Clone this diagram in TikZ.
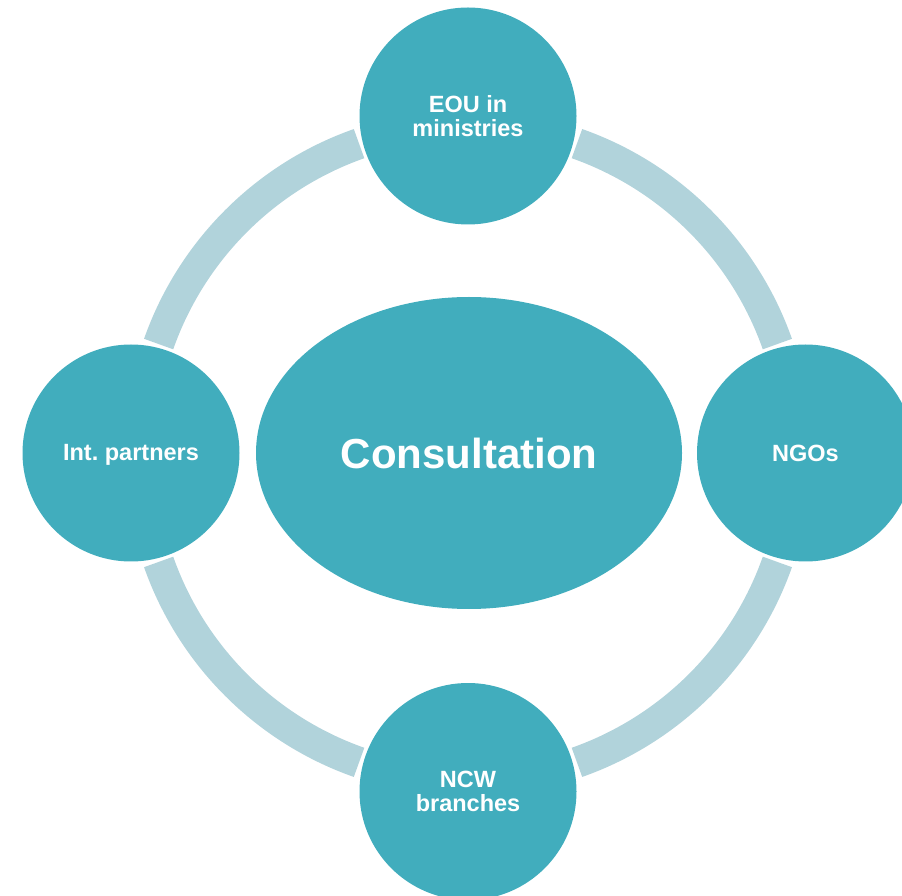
\documentclass[tikz,border=0pt]{standalone}
\usepackage{fontspec}
\setmainfont{Liberation Sans}
\usetikzlibrary{shapes.geometric,calc}
\definecolor{teal}{RGB}{65,173,189}
\definecolor{ringc}{RGB}{177,211,219}
\tikzset{
  ring/.style={draw=ringc,line width=31pt},
  bubble/.style={circle,fill=teal,inner sep=0pt,minimum size=217pt,text=white,
    font=\fontsize{23.5pt}{23.5pt}\selectfont\bfseries,align=center},
  hub/.style={ellipse,fill=teal,inner sep=0pt,minimum width=426pt,minimum height=312pt,
    text=white,font=\fontsize{42pt}{48pt}\selectfont\bfseries}
}
\begin{document}
\begin{tikzpicture}[x=1pt,y=1pt]
\useasboundingbox (0,0) rectangle (902,895);
\coordinate (C) at (468,442);
\foreach \a in {19.4,109.4,199.4,289.4}{
  \draw[ring] ($(C)+(\a:328pt)$) arc[start angle=\a, delta angle=51.2, radius=328pt];
}
\node[hub] (cons) at (469,442) {Consultation};
\node[bubble] (eou) at (468,779) {EOU in\\ministries};
\node[bubble] (ngo) at (805.5,442) {NGOs};
\node[bubble] (ncw) at (468,103.5) {NCW\\branches};
\node[bubble] (int) at (131,442) {Int.\ \smash{p}artners};
\end{tikzpicture}
\end{document}
